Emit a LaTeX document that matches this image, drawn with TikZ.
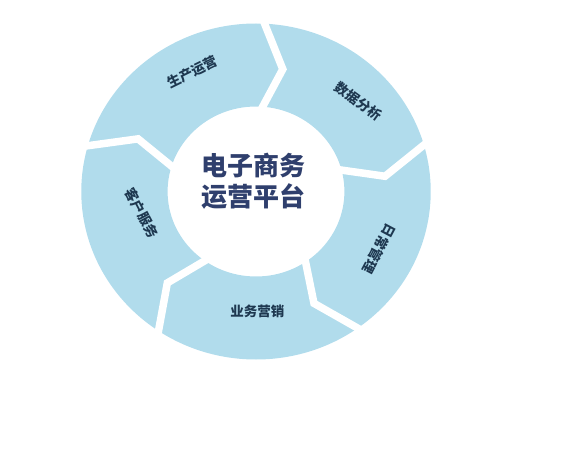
\documentclass[tikz,border=0pt]{standalone}
\usepackage{fontspec}
\newfontfamily\cjk{Noto Sans CJK SC}
\usepackage{xcolor}
\definecolor{ringblue}{HTML}{B1DCEC}
\definecolor{labelnavy}{HTML}{1E3850}
\definecolor{titlenavy}{HTML}{2F3F6D}

\begin{document}
\begin{tikzpicture}[x=1pt, y=1pt,
  seglabel/.style={font=\cjk\bfseries\fontsize{13.5}{15}\selectfont, text=labelnavy, inner sep=0pt}]
\useasboundingbox (-256,-260.5) rectangle (311,191.5);

% Ring of arrows
\begin{scope}[xscale=1.04]
\fill[ringblue, even odd rule] (0,0) circle (168) (0,0) circle (85);
% Gaps between the arrows
\foreach \a in {88.6, 17.5, -53, -122.5, 165.6}
  \draw[white, line width=7.5, line join=miter, miter limit=10]
    (\a:178) -- ({\a-10.5}:125) -- (\a:76);
\end{scope}

% Labels
\node[seglabel, rotate=26] (prod) at (-63.5, 119.8) {生产运营};
\node[seglabel, rotate=-36] (data) at (102.3, 89.8) {数据分析};
\node[seglabel, rotate=-118] (daily) at (123.2, -57.7) {日常管理};
\node[seglabel] (market) at (1.3, -120.2) {业务营销};
\node[seglabel, rotate=-62] (service) at (-114.3, -21.8) {客户服务};

% Centre
\node[font=\cjk\bfseries\fontsize{26}{31.5}\selectfont, text=titlenavy, align=center] (title) at (-2.7, 10.5)
    {电子商务\\运营平台};

\end{tikzpicture}
\end{document}
